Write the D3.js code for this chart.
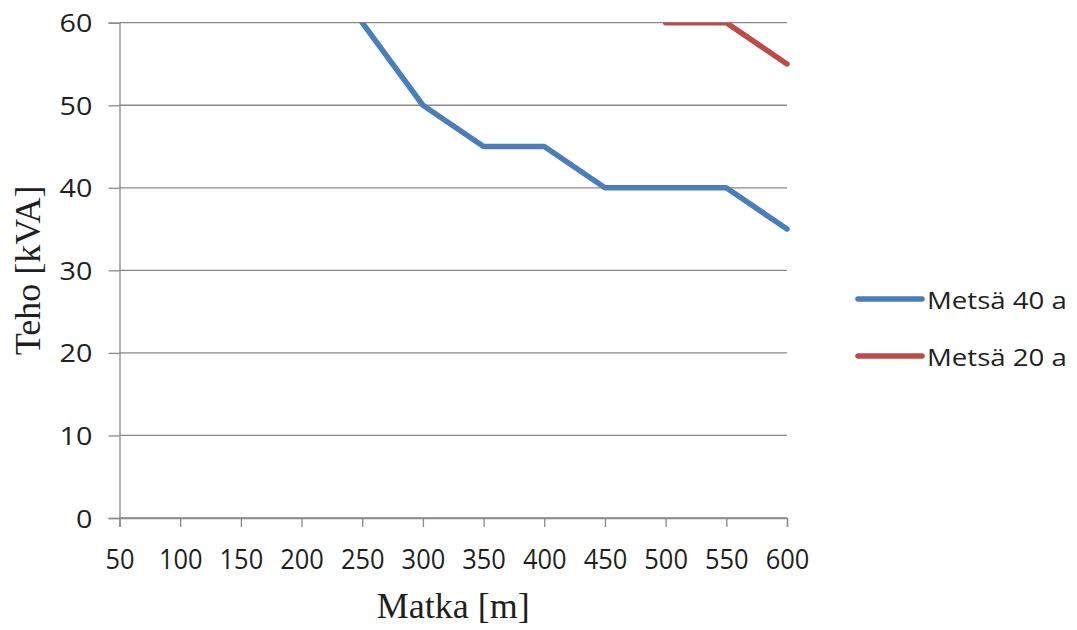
<!DOCTYPE html>
<html>
<head>
<meta charset="utf-8">
<script src="https://cdn.jsdelivr.net/npm/d3@7"></script>
<style>
  html, body { margin: 0; padding: 0; background: #fff; }
  svg { display: block; }
</style>
</head>
<body>
<svg id="chart" width="1077" height="630"></svg>
<script>
// Distance categories (m)
const distances = [50, 100, 150, 200, 250, 300, 350, 400, 450, 500, 550, 600];
// Power (kVA) per distance; null where the curve lies beyond the plotted range
const forest40 = [null, null, null, null, 60, 50, 45, 45, 40, 40, 40, 35];
const forest20 = [null, null, null, null, null, null, null, null, null, 60, 60, 55];
const seriesNames = ["Metsä 40 a", "Metsä 20 a"];
const seriesColors = ["#4A7EBB", "#BE4B48"];
const yTicks = [0, 10, 20, 30, 40, 50, 60];

const svg = d3.select("#chart");
const plot = { left: 119.5, right: 787, top: 22.7, bottom: 518 };

const x = d3.scalePoint().domain(distances).range([plot.left, plot.right]);
const y = d3.scaleLinear().domain([0, 60]).range([plot.bottom, plot.top]);

const gridColor = "#898989";
const textColor = "#1f1f1f";

// Horizontal gridlines
svg.append("g")
  .selectAll("line")
  .data(yTicks)
  .join("line")
  .attr("x1", plot.left)
  .attr("x2", plot.right)
  .attr("y1", d => y(d))
  .attr("y2", d => y(d))
  .attr("stroke", gridColor)
  .attr("stroke-width", 1.3);

// Y axis
const yAxis = svg.append("g")
  .attr("transform", `translate(${plot.left},0)`)
  .call(d3.axisLeft(y).tickValues(yTicks).tickSize(11).tickPadding(0).tickFormat(d3.format("d")));
yAxis.select(".domain").attr("stroke", gridColor).attr("stroke-width", 1.3);
yAxis.selectAll(".tick line").attr("stroke", gridColor).attr("stroke-width", 1.3);
yAxis.selectAll(".tick text")
  .attr("x", null)
  .attr("dy", null)
  .attr("y", null)
  .attr("text-anchor", "end")
  .attr("transform", "translate(-27,9) scale(1.15,1)")
  .attr("fill", textColor)
  .style("font-family", "'Open Sans', sans-serif")
  .style("font-size", "25px");

// X axis
const xAxis = svg.append("g")
  .attr("transform", `translate(0,${plot.bottom})`)
  .call(d3.axisBottom(x).tickSize(9).tickPadding(0));
xAxis.select(".domain").attr("stroke", gridColor).attr("stroke-width", 1.3);
xAxis.selectAll(".tick line").attr("stroke", gridColor).attr("stroke-width", 1.3);
xAxis.selectAll(".tick text")
  .attr("y", null)
  .attr("dy", null)
  .attr("text-anchor", "middle")
  .attr("transform", "translate(0,51) scale(0.96,1)")
  .attr("fill", textColor)
  .style("font-family", "'Open Sans', sans-serif")
  .style("font-size", "26.5px");

// Clip lines at the top of the value range
svg.append("clipPath").attr("id", "plotClip")
  .append("rect")
  .attr("x", plot.left - 10)
  .attr("y", plot.top)
  .attr("width", plot.right - plot.left + 20)
  .attr("height", plot.bottom - plot.top + 10);

const line = d3.line()
  .defined(d => d.v !== null)
  .x(d => x(d.k))
  .y(d => y(d.v));

const seriesData = [forest40, forest20].map(vals => distances.map((k, i) => ({ k, v: vals[i] })));

svg.append("g")
  .attr("clip-path", "url(#plotClip)")
  .selectAll("path")
  .data(seriesData)
  .join("path")
  .attr("d", line)
  .attr("fill", "none")
  .attr("stroke", (d, i) => seriesColors[i])
  .attr("stroke-width", 5.5)
  .attr("stroke-linejoin", "round")
  .attr("stroke-linecap", "round");

// Axis titles
svg.append("text")
  .attr("x", (plot.left + plot.right) / 2)
  .attr("y", 618)
  .attr("text-anchor", "middle")
  .attr("fill", textColor)
  .style("font-family", "'Liberation Serif', 'Times New Roman', serif")
  .style("font-size", "36px")
  .text("Matka [m]");

svg.append("text")
  .attr("transform", `translate(40,${(plot.top + plot.bottom) / 2}) rotate(-90)`)
  .attr("text-anchor", "middle")
  .attr("fill", textColor)
  .style("font-family", "'Liberation Serif', 'Times New Roman', serif")
  .style("font-size", "36px")
  .text("Teho [kVA]");

// Legend
const legendRows = [299, 356];
const legend = svg.append("g");
seriesNames.forEach((name, i) => {
  legend.append("line")
    .attr("x1", 858).attr("x2", 922)
    .attr("y1", legendRows[i]).attr("y2", legendRows[i])
    .attr("stroke", seriesColors[i])
    .attr("stroke-width", 5.5)
    .attr("stroke-linecap", "round");
  legend.append("text")
    .attr("transform", `translate(927,${legendRows[i] + 10}) scale(1.2,1)`)
    .attr("fill", textColor)
    .style("font-family", "'Open Sans', sans-serif")
    .style("font-size", "23px")
    .text(name);
});
</script>
</body>
</html>
